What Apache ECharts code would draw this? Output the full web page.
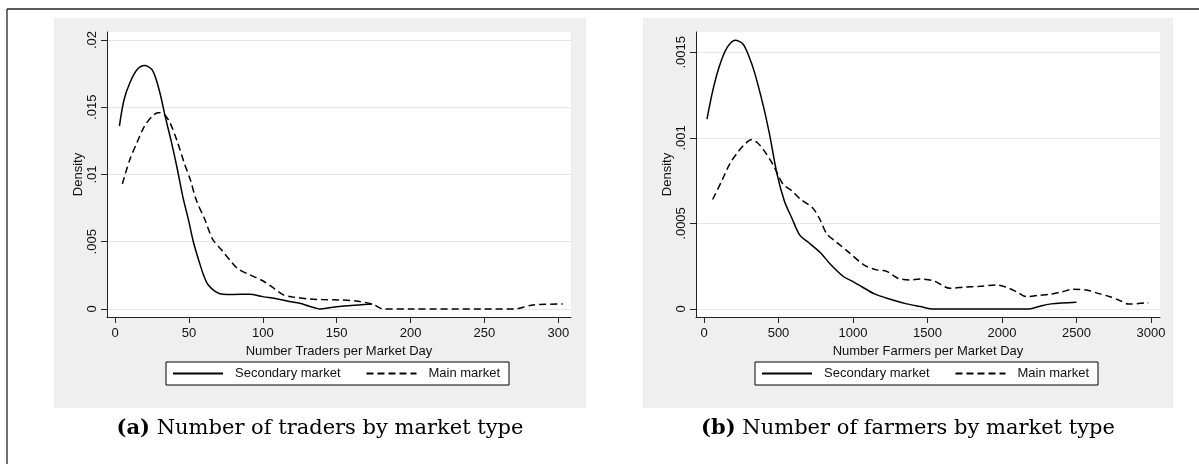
<!DOCTYPE html>
<html><head><meta charset="utf-8">
<script src="https://cdn.jsdelivr.net/npm/echarts@6/dist/echarts.min.js"></script>
<style>html,body{margin:0;padding:0;background:#fff}#c{width:1199px;height:464px}</style>
</head><body><div id="c"></div>
<script>
// ---- Panel (a): Number of traders per market day ----
const tradersSecondaryX = [3, 6, 10, 15, 20, 25, 28, 31, 34, 38, 42, 46, 50, 53, 57, 60, 63, 68, 73, 80, 91, 100, 110, 118, 125, 131, 135, 139, 145, 155, 165, 174];
const tradersSecondaryY = [.0136, .0155, .0168, .0178, .0181, .0178, .0170, .0158, .0143, .0125, .0105, .0083, .0065, .0050, .0035, .0025, .0018, .0013, .0011, .00108, .0011, .00092, .00075, .00055, .00042, .00022, .0001, 0, .0001, .00022, .0003, .00037];
const tradersMainX = [5, 10, 15, 20, 25, 29, 33, 37, 42, 47, 51, 55, 61, 66, 72, 78, 83, 90, 100, 108, 114, 120, 132, 140, 152, 163, 174, 182, 200, 250, 270, 283, 303];
const tradersMainY = [.0093, .0111, .0124, .0136, .0143, .0146, .0145, .0139, .0125, .0108, .0096, .0081, .0066, .0052, .0044, .0036, .0030, .0026, .0021, .0015, .00105, .0009, .00074, .0007, .00067, .0006, .00037, 0, 0, 0, 0, .0003, .00037];
const tradersXTicks = [0, 50, 100, 150, 200, 250, 300];
const tradersYTicks = [0, 0.005, 0.01, 0.015, 0.02];

// ---- Panel (b): Number of farmers per market day ----
const farmersSecondaryX = [20, 60, 100, 150, 210, 260, 300, 340, 400, 440, 490, 540, 590, 644, 700, 780, 850, 935, 1000, 1060, 1140, 1250, 1360, 1450, 1540, 2170, 2250, 2330, 2500];
const farmersSecondaryY = [.00111, .00128, .00141, .00152, .00157, .00155, .00148, .00138, .00118, .00102, .00079, .00063, .00053, .00043, .00039, .00033, .00026, .00019, .00016, .00013, .00009, .000057, .00003, .000015, 0, 0, .000015, .00003, .00004];
const farmersMainX = [58, 120, 174, 230, 270, 320, 360, 400, 465, 530, 590, 650, 730, 780, 823, 890, 960, 1070, 1150, 1226, 1300, 1380, 1450, 1540, 1651, 1750, 1850, 1965, 2030, 2100, 2166, 2250, 2322, 2400, 2478, 2568, 2650, 2725, 2790, 2848, 2982];
const farmersMainY = [.00064, .00075, .00085, .00092, .00096, .00099, .00097, .00093, .00084, .00073, .00069, .00064, .00059, .00052, .00044, .00039, .00034, .00026, .00023, .00022, .00018, .00017, .000175, .000165, .000121, .000128, .000133, .00014, .000127, .0001, .000072, .00008, .000086, .0001, .000115, .000111, .00009, .000072, .00005, .000029, .000037];
const farmersXTicks = [0, 500, 1000, 1500, 2000, 2500, 3000];
const farmersYTicks = [0, 0.0005, 0.001, 0.0015];

const seriesNames = ['Secondary market', 'Main market'];
const captionA = 'Number of traders by market type';
const captionB = 'Number of farmers by market type';

const zip = (xs, ys) => xs.map((x, i) => [x, ys[i]]);
const yFmt = v => v === 0 ? '0' : String(v).replace(/^0/, '');
const xFmt = v => String(v);
const FONT = 'Liberation Sans';
const SERIF = 'DejaVu Serif';
const AX = '#222';

function xAxisFor(gi, min, max, ticks, name) {
  return {
    gridIndex: gi, type: 'value', min, max,
    axisLine: { show: true, onZero: false, lineStyle: { color: AX, width: 1 } },
    axisTick: { show: true, length: 6, customValues: ticks, lineStyle: { color: AX } },
    axisLabel: { customValues: ticks, margin: 10, fontSize: 13, color: '#111', fontFamily: FONT, formatter: xFmt },
    splitLine: { show: false },
    name, nameLocation: 'middle', nameGap: 22,
    nameTextStyle: { fontSize: 13, color: '#111', fontFamily: FONT }
  };
}
function yAxisFor(gi, min, max, ticks) {
  return {
    gridIndex: gi, type: 'value', min, max,
    axisLine: { show: true, onZero: false, lineStyle: { color: AX, width: 1 } },
    axisTick: { show: true, length: 6, customValues: ticks, lineStyle: { color: AX } },
    axisLabel: { customValues: ticks, rotate: 90, margin: 8, fontSize: 13, color: '#111', fontFamily: FONT, formatter: yFmt },
    splitLine: { show: true, lineStyle: { color: '#e6e6e6', width: 1 } },
    name: 'Density', nameLocation: 'middle', nameGap: 22,
    nameTextStyle: { fontSize: 13, color: '#111', fontFamily: FONT }
  };
}
function lineSeries(name, gi, data, dashed) {
  return {
    name, type: 'line', xAxisIndex: gi, yAxisIndex: gi, data,
    symbol: 'none', smooth: 0.3, animation: false,
    lineStyle: { color: '#000', width: 1.5, type: dashed ? [7, 4] : 'solid' },
    itemStyle: { color: '#000' }
  };
}
function legendFor(left) {
  return {
    left, top: 362, orient: 'horizontal', data: seriesNames,
    itemWidth: 50, itemHeight: 14, itemGap: 25,
    padding: [5, 9, 5, 6],
    borderColor: '#000', borderWidth: 1, backgroundColor: '#fff',
    itemStyle: { opacity: 0 },
    textStyle: { fontSize: 13, color: '#111', fontFamily: FONT, padding: [0, 0, 0, 7] },
    selectedMode: false
  };
}
function caption(label, text, cx) {
  return {
    text: '{b|' + label + '} ' + text, left: cx, top: 418, textAlign: 'center', padding: 0,
    textStyle: {
      fontFamily: SERIF, fontSize: 21, fontWeight: 'normal', color: '#000',
      rich: { b: { fontFamily: SERIF, fontSize: 21, fontWeight: 'bold', color: '#000' } }
    }
  };
}

const chart = echarts.init(document.getElementById('c'), null, { renderer: 'canvas' });
chart.setOption({
  backgroundColor: '#fff',
  animation: false,
  textStyle: { fontFamily: FONT },
  graphic: [
    { type: 'rect', z: -10, shape: { x: 54, y: 18, width: 532, height: 390 }, style: { fill: '#efefef' } },
    { type: 'rect', z: -10, shape: { x: 643, y: 18, width: 530, height: 390 }, style: { fill: '#efefef' } },
    { type: 'line', z: -9, shape: { x1: 7, y1: 9, x2: 1199, y2: 9 }, style: { stroke: '#222', lineWidth: 1.3 } },
    { type: 'line', z: -9, shape: { x1: 7, y1: 9, x2: 7, y2: 464 }, style: { stroke: '#222', lineWidth: 1.3 } }
  ],
  title: [caption('(a)', captionA, 320), caption('(b)', captionB, 908)],
  legend: [legendFor(166), legendFor(755)],
  grid: [
    { left: 107, top: 32, width: 464, height: 285, show: true, backgroundColor: '#fff', borderWidth: 0 },
    { left: 696, top: 32, width: 464, height: 285, show: true, backgroundColor: '#fff', borderWidth: 0 }
  ],
  xAxis: [
    xAxisFor(0, -5.41, 308.6, tradersXTicks, 'Number Traders per Market Day'),
    xAxisFor(1, -53.7, 3060.4, farmersXTicks, 'Number Farmers per Market Day')
  ],
  yAxis: [
    yAxisFor(0, -0.000595, 0.020595, tradersYTicks),
    yAxisFor(1, -0.0000467, 0.0016186, farmersYTicks)
  ],
  series: [
    lineSeries(seriesNames[0], 0, zip(tradersSecondaryX, tradersSecondaryY), false),
    lineSeries(seriesNames[1], 0, zip(tradersMainX, tradersMainY), true),
    lineSeries(seriesNames[0], 1, zip(farmersSecondaryX, farmersSecondaryY), false),
    lineSeries(seriesNames[1], 1, zip(farmersMainX, farmersMainY), true)
  ]
});
</script></body></html>
